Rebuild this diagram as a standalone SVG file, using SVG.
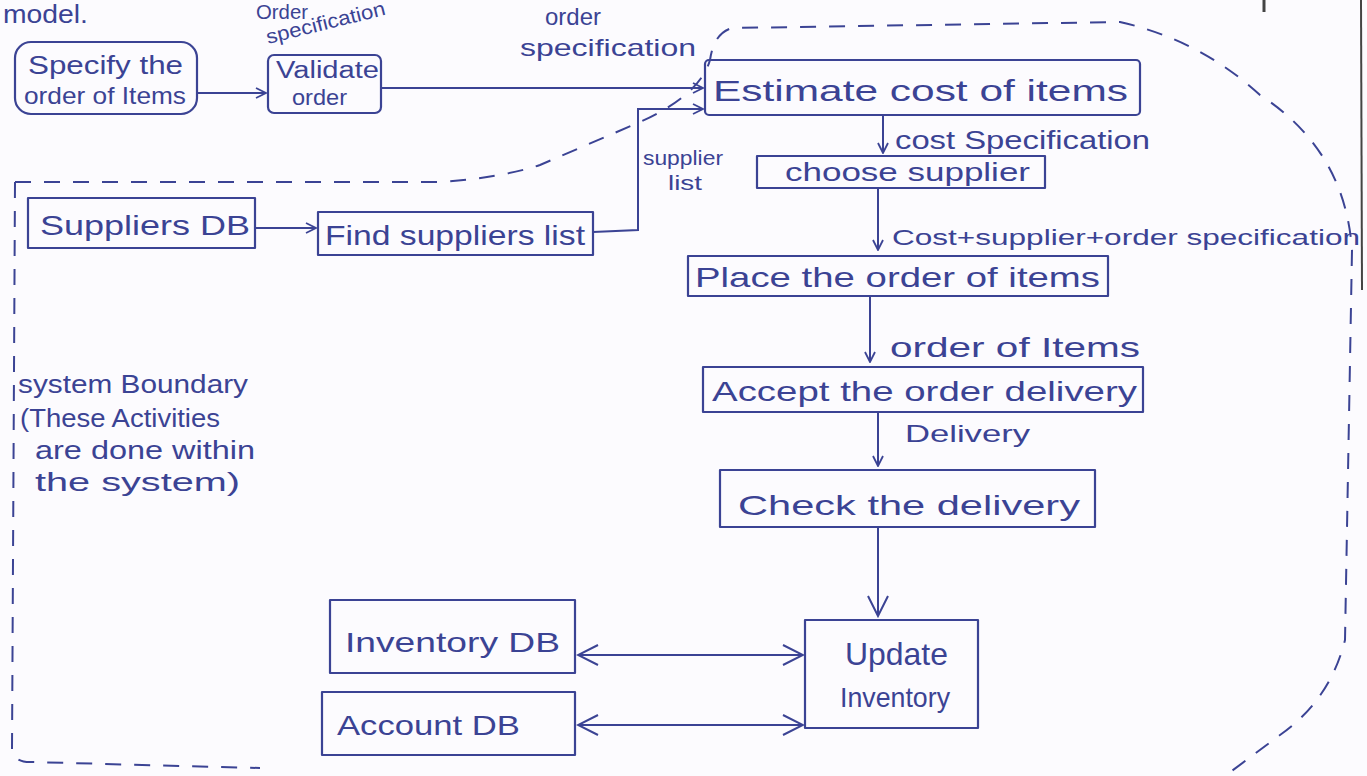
<svg xmlns="http://www.w3.org/2000/svg" width="1367" height="776" viewBox="0 0 1367 776">
<defs>
<style>
.box{fill:none;stroke:#3b4394;stroke-width:2.2;stroke-linejoin:round}
.t{font-family:"Liberation Sans","DejaVu Sans",sans-serif;fill:#3b4394}
.c{fill:none;stroke:#3b4394;stroke-width:2}
.b{fill:none;stroke:#3b4394;stroke-width:2;stroke-dasharray:16 13}
</style>
<marker id="ah" viewBox="0 0 12 12" refX="11" refY="6" markerWidth="12" markerHeight="12" markerUnits="userSpaceOnUse" orient="auto-start-reverse">
<path d="M1,1 L11,6 L1,11" fill="none" stroke="#3b4394" stroke-width="1.8"/>
</marker>
<marker id="ah2" viewBox="0 0 24 24" refX="22" refY="12" markerWidth="24" markerHeight="24" markerUnits="userSpaceOnUse" orient="auto-start-reverse">
<path d="M2,2 L22,12 L2,22" fill="none" stroke="#3b4394" stroke-width="2"/>
</marker>
</defs>
<rect x="0" y="0" width="1367" height="776" fill="#fcfbfe"/>
<g id="page">
<text class="t" x="3" y="23" font-size="25" textLength="85" lengthAdjust="spacingAndGlyphs">model.</text>
<line x1="1361" y1="0" x2="1362" y2="290" stroke="#444" stroke-width="2"/>
<line x1="1264" y1="0" x2="1264" y2="12" stroke="#444" stroke-width="3"/>
</g>
<g id="boundary">
<path class="b" d="M15,182 L440,182 Q500,178 540,165 L640,122 Q700,95 710,60 Q714,33 732,28 L1120,22 Q1200,40 1260,95 Q1345,150 1352,250 L1345,640 Q1330,700 1280,735 L1225,776"/>
<path class="b" d="M15,182 L12,750 Q14,762 30,762 L260,768"/>
<text class="t" x="18" y="393" font-size="26" textLength="230" lengthAdjust="spacingAndGlyphs">system Boundary</text>
<text class="t" x="20" y="427" font-size="26" textLength="200" lengthAdjust="spacingAndGlyphs">(These Activities</text>
<text class="t" x="35" y="459" font-size="26" textLength="220" lengthAdjust="spacingAndGlyphs">are done within</text>
<text class="t" x="35" y="491" font-size="26" textLength="205" lengthAdjust="spacingAndGlyphs">the system)</text>
</g>
<g id="n-specify">
<rect class="box" x="15" y="42" width="182" height="72" rx="16"/>
<text class="t" x="28" y="74" font-size="25" textLength="155" lengthAdjust="spacingAndGlyphs">Specify the</text>
<text class="t" x="24" y="104" font-size="24" textLength="162" lengthAdjust="spacingAndGlyphs">order of Items</text>
</g>
<g id="n-validate">
<rect class="box" x="268" y="55" width="113" height="58" rx="6"/>
<text class="t" x="276" y="78" font-size="23" textLength="103" lengthAdjust="spacingAndGlyphs">Validate</text>
<text class="t" x="292" y="105" font-size="22" textLength="55" lengthAdjust="spacingAndGlyphs">order</text>
</g>
<g id="n-estimate">
<rect class="box" x="705" y="60" width="435" height="55" rx="4"/>
<text class="t" x="713" y="101" font-size="30" textLength="415" lengthAdjust="spacingAndGlyphs">Estimate cost of items</text>
</g>
<g id="n-choose">
<rect class="box" x="757" y="156" width="288" height="32"/>
<text class="t" x="785" y="181" font-size="26" textLength="245" lengthAdjust="spacingAndGlyphs">choose supplier</text>
</g>
<g id="n-place">
<rect class="box" x="688" y="256" width="420" height="40"/>
<text class="t" x="695" y="287" font-size="28" textLength="405" lengthAdjust="spacingAndGlyphs">Place the order of items</text>
</g>
<g id="n-accept">
<rect class="box" x="703" y="367" width="440" height="45"/>
<text class="t" x="712" y="401" font-size="28" textLength="425" lengthAdjust="spacingAndGlyphs">Accept the order delivery</text>
</g>
<g id="n-check">
<rect class="box" x="720" y="470" width="375" height="57"/>
<text class="t" x="738" y="515" font-size="28" textLength="342" lengthAdjust="spacingAndGlyphs">Check the delivery</text>
</g>
<g id="n-update">
<rect class="box" x="805" y="620" width="173" height="108"/>
<text class="t" x="845" y="665" font-size="32" textLength="103" lengthAdjust="spacingAndGlyphs">Update</text>
<text class="t" x="840" y="707" font-size="28" textLength="110" lengthAdjust="spacingAndGlyphs">Inventory</text>
</g>
<g id="n-invdb">
<rect class="box" x="330" y="600" width="245" height="73"/>
<text class="t" x="345" y="652" font-size="28" textLength="215" lengthAdjust="spacingAndGlyphs">Inventory DB</text>
</g>
<g id="n-accdb">
<rect class="box" x="322" y="692" width="253" height="63"/>
<text class="t" x="337" y="735" font-size="28" textLength="183" lengthAdjust="spacingAndGlyphs">Account DB</text>
</g>
<g id="n-suppdb">
<rect class="box" x="28" y="198" width="227" height="50"/>
<text class="t" x="40" y="235" font-size="28" textLength="210" lengthAdjust="spacingAndGlyphs">Suppliers DB</text>
</g>
<g id="n-find">
<rect class="box" x="318" y="212" width="275" height="43"/>
<text class="t" x="325" y="245" font-size="28" textLength="260" lengthAdjust="spacingAndGlyphs">Find suppliers list</text>
</g>
<g id="connectors">
<path class="c" d="M197,93 L266,93" marker-end="url(#ah)"/>
<path class="c" d="M381,88 L703,88" marker-end="url(#ah)"/>
<path class="c" d="M593,232 L638,230 L638,109 L703,109" marker-end="url(#ah)"/>
<path class="c" d="M255,228 L316,228" marker-end="url(#ah)"/>
<path class="c" d="M883,116 L883,153" marker-end="url(#ah)"/>
<path class="c" d="M878,189 L878,250" marker-end="url(#ah)"/>
<path class="c" d="M870,297 L870,362" marker-end="url(#ah)"/>
<path class="c" d="M878,413 L878,466" marker-end="url(#ah)"/>
<path class="c" d="M878,528 L878,616" marker-end="url(#ah2)"/>
<path class="c" d="M578,655 L803,655" marker-start="url(#ah2)" marker-end="url(#ah2)"/>
<path class="c" d="M578,725 L803,725" marker-start="url(#ah2)" marker-end="url(#ah2)"/>
<text class="t" x="256" y="19" font-size="20" textLength="52" lengthAdjust="spacingAndGlyphs">Order</text>
<text class="t" x="268" y="44" font-size="20" textLength="122" lengthAdjust="spacingAndGlyphs" transform="rotate(-14 268 44)">specification</text>
<text class="t" x="545" y="25" font-size="24" textLength="56" lengthAdjust="spacingAndGlyphs">order</text>
<text class="t" x="520" y="56" font-size="24" textLength="176" lengthAdjust="spacingAndGlyphs">specification</text>
<text class="t" x="643" y="165" font-size="20" textLength="80" lengthAdjust="spacingAndGlyphs">supplier</text>
<text class="t" x="668" y="190" font-size="20" textLength="34" lengthAdjust="spacingAndGlyphs">list</text>
<text class="t" x="895" y="149" font-size="26" textLength="255" lengthAdjust="spacingAndGlyphs">cost Specification</text>
<text class="t" x="892" y="245" font-size="22" textLength="468" lengthAdjust="spacingAndGlyphs">Cost+supplier+order specification</text>
<text class="t" x="890" y="357" font-size="28" textLength="250" lengthAdjust="spacingAndGlyphs">order of Items</text>
<text class="t" x="905" y="442" font-size="24" textLength="125" lengthAdjust="spacingAndGlyphs">Delivery</text>
</g>
</svg>
